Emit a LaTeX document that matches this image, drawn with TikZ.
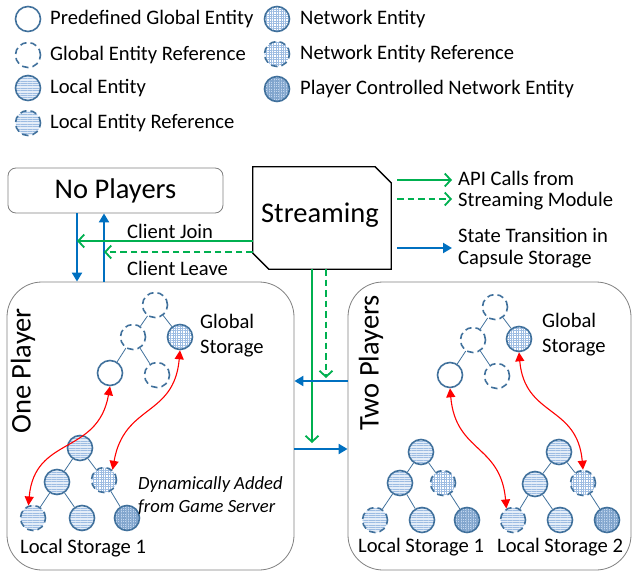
\documentclass[tikz,border=0pt]{standalone}
\usepackage{fontspec}
\setmainfont{Carlito}
\usetikzlibrary{arrows.meta,patterns.meta,calc}
\definecolor{nb}{HTML}{41719C}
\definecolor{pale}{HTML}{E4EDF8}
\definecolor{pat}{HTML}{9DBCE2}
\definecolor{darkf}{HTML}{C2D6EE}
\definecolor{ablue}{HTML}{0070C0}
\definecolor{agreen}{HTML}{00B050}
\definecolor{ared}{HTML}{FF0000}
\definecolor{boxg}{HTML}{7F7F7F}
\newcommand\fsm{\fontsize{20.6}{24}\selectfont}
\newcommand\fit{\fontsize{18.6}{23}\selectfont\itshape}
\newcommand\fbg{\fontsize{28.5}{32}\selectfont}
\tikzset{
  ent/.style={circle, draw=nb, line width=1.6pt, minimum size=25pt, inner sep=0pt},
  dsh/.style={dash pattern=on 6.5pt off 4pt},
  pge/.style={ent, fill=white},
  ger/.style={ent, dsh},
  le/.style={ent, preaction={fill=pale}, pattern={Lines[distance=2.4pt,line width=0.7pt]}, pattern color=pat},
  ler/.style={le, dsh},
  ne/.style={ent, preaction={fill=white}, pattern={Hatch[distance=2.4pt,line width=0.5pt]}, pattern color=pat},
  ner/.style={ne, dsh},
  pc/.style={ent, preaction={fill=darkf}, pattern={Hatch[distance=1.7pt,line width=0.5pt]}, pattern color=pat!70!nb},
  edge/.style={draw=nb, line width=0.8pt},
  txt/.style={font=\fsm, inner sep=0pt, anchor=west},
  big/.style={font=\fbg, inner sep=0pt},
  stbox/.style={draw=boxg, line width=0.8pt},
  bl/.style={draw=ablue, line width=2.2pt, -{Triangle[length=9pt,width=10pt]}},
  gr/.style={draw=agreen, line width=1.8pt, -{Straight Barb[length=6pt,width=13pt,line width=1.8pt]}},
  rd/.style={draw=ared, line width=1.1pt, looseness=1.25, {Triangle[length=9pt,width=9pt]}-{Triangle[length=9pt,width=9pt]}},
}
\begin{document}
\begin{tikzpicture}[x=1pt,y=-1pt]
\useasboundingbox (0,0) rectangle (633,573);
% legend
\node[pge] (k1) at (28,19) {};
\node[ger] (k2) at (28,55) {};
\node[le]  (k3) at (28,88) {};
\node[ler] (k4) at (28,123) {};
\node[ne]  (k5) at (277,19) {};
\node[ner] (k6) at (277,54) {};
\node[pc]  (k7) at (277,89) {};
\node[txt] (t1) at (50,19) {Predefined Global Entity};
\node[txt] (t2) at (50,55) {Global Entity Reference};
\node[txt] (t3) at (50,88) {Local Entity};
\node[txt] (t4) at (50,123) {Local Entity Reference};
\node[txt] (t5) at (300,19) {Network Entity};
\node[txt] (t6) at (300,54) {Network Entity Reference};
\node[txt] (t7) at (300,89) {Player Controlled Network Entity};
% boxes
\node[stbox, rounded corners=8pt, minimum width=215pt, minimum height=45pt, inner sep=0pt, font=\fbg] (np) at (115.5,190.5) {No Players};
\node[stbox, rounded corners=35pt, minimum width=287pt, minimum height=288pt, inner sep=0pt] (one) at (150.5,426) {};
\node[stbox, rounded corners=35pt, minimum width=283pt, minimum height=288pt, inner sep=0pt] (two) at (489.5,426) {};
\node[big, rotate=90] (onel) at (23,371) {One Player};
\node[big, rotate=90] (twol) at (371,363) {Two Players};
% streaming
\node[minimum width=138pt, minimum height=102pt, inner sep=0pt] (str) at (322,218) {};
\draw[black, line width=1.3pt] (str.north west) -- ([xshift=-16pt]str.north east) -- ([yshift=-16pt]str.north east) -- (str.south east) -- ([xshift=16pt]str.south west) -- ([yshift=16pt]str.south west) -- cycle;
\node[big] (strl) at (320,215) {Streaming};
% arrow legend
\coordinate (la1) at (397,180); \coordinate (lb1) at (452,180);
\coordinate (la2) at (397,199); \coordinate (lb2) at (452,199);
\coordinate (la3) at (397,248); \coordinate (lb3) at (452,248);
\draw[gr] (la1) -- (lb1);
\draw[gr, dsh] (la2) -- (lb2);
\draw[bl] (la3) -- (lb3);
\node[txt] (a1) at (458,178) {API Calls from};
\node[txt] (a2) at (458,201) {Streaming Module};
\node[txt] (a3) at (458,235) {State Transition in};
\node[txt] (a4) at (458,259) {Capsule Storage};
% transitions
\coordinate (xa) at (77,0); \coordinate (xb) at (104,0);
\draw[bl] (np.south -| xa) -- (one.north -| xa);
\draw[bl] (one.north -| xb) -- (np.south -| xb);
\coordinate (yj) at (0,241); \coordinate (yl) at (0,252);
\draw[gr] (str.west |- yj) -- (xa |- yj);
\draw[gr, dsh] (str.west |- yl) -- (xb |- yl);
\node[txt] (cj) at (127,231) {Client Join};
\node[txt] (cl) at (127,268) {Client Leave};
\coordinate (xs) at (312,0); \coordinate (xd) at (326,0);
\coordinate (e1) at (312,443); \coordinate (e2) at (326,378);
\draw[gr] (str.south -| xs) -- (e1);
\draw[gr, dsh] (str.south -| xd) -- (e2);
\coordinate (yu) at (0,381); \coordinate (yv) at (0,449);
\draw[bl] (two.west |- yu) -- (one.east |- yu);
\draw[bl] (one.east |- yv) -- (two.west |- yv);
% one player: global
\node[ger] (g1r) at (155,305) {};
\node[ger] (g1a) at (133,337) {};
\node[ne]  (g1b) at (180,337) {};
\node[pge] (g1c) at (110,373) {};
\node[ger] (g1d) at (157,375) {};
\draw[edge] (g1r) -- (g1a); \draw[edge] (g1r) -- (g1b);
\draw[edge] (g1a) -- (g1c); \draw[edge] (g1a) -- (g1d);
\node[txt, align=left] (gs1) at (200,336) {Global\\[1pt]Storage};
% one player: local
\node[le]  (l1r) at (80,448) {};
\node[le]  (l1a) at (57,482) {};
\node[ner] (l1b) at (104,480) {};
\node[ler] (l1c) at (33,518) {};
\node[le]  (l1d) at (82,518) {};
\node[pc]  (l1e) at (127,518) {};
\draw[edge] (l1r) -- (l1a); \draw[edge] (l1r) -- (l1b);
\draw[edge] (l1a) -- (l1c); \draw[edge] (l1a) -- (l1d);
\draw[edge] (l1b) -- (l1e);
\node[txt] (ls1) at (20,548) {Local Storage 1};
\node[txt, align=left, font=\fit] (dyn) at (138,496) {Dynamically Added\\from Game Server};
\draw[rd] (l1c.110) to[out=85,in=-100] (g1c.south);
\draw[rd] (l1b.50) to[out=80,in=-95] (g1b.south);
% two players: global
\node[ger] (g2r) at (495,307) {};
\node[ger] (g2a) at (473,340) {};
\node[ne]  (g2b) at (519,339) {};
\node[pge] (g2c) at (450,375) {};
\node[ger] (g2d) at (497,376) {};
\draw[edge] (g2r) -- (g2a); \draw[edge] (g2r) -- (g2b);
\draw[edge] (g2a) -- (g2c); \draw[edge] (g2a) -- (g2d);
\node[txt, align=left] (gs2) at (542,335) {Global\\[1pt]Storage};
% two players: local 1
\node[le]  (m1r) at (421,452) {};
\node[le]  (m1a) at (400,483) {};
\node[ner] (m1b) at (443,483) {};
\node[ler] (m1c) at (375,520) {};
\node[le]  (m1d) at (422,520) {};
\node[pc]  (m1e) at (467,520) {};
\draw[edge] (m1r) -- (m1a); \draw[edge] (m1r) -- (m1b);
\draw[edge] (m1a) -- (m1c); \draw[edge] (m1a) -- (m1d);
\draw[edge] (m1b) -- (m1e);
\node[txt] (ls21) at (358,547) {Local Storage 1};
% two players: local 2
\node[le]  (m2r) at (559,452) {};
\node[le]  (m2a) at (535,484) {};
\node[ner] (m2b) at (583,483) {};
\node[ler] (m2c) at (513,520) {};
\node[le]  (m2d) at (560,520) {};
\node[pc]  (m2e) at (607,520) {};
\draw[edge] (m2r) -- (m2a); \draw[edge] (m2r) -- (m2b);
\draw[edge] (m2a) -- (m2c); \draw[edge] (m2a) -- (m2d);
\draw[edge] (m2b) -- (m2e);
\node[txt] (ls22) at (497,547) {Local Storage 2};
\draw[rd] (g2c.south) to[out=-85,in=95] (m2c.120);
\draw[rd] (g2b.south) to[out=-85,in=95] (m2b.north);
\end{tikzpicture}
\end{document}
